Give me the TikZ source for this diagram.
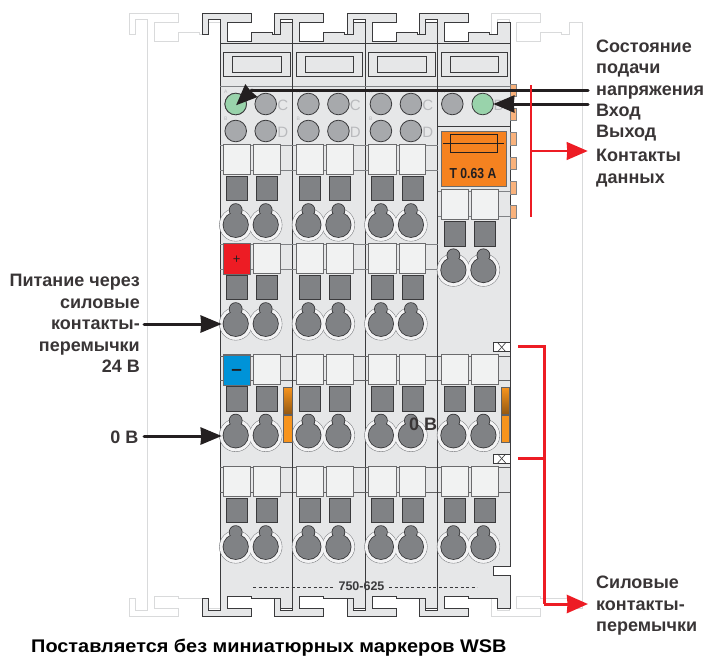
\documentclass[tikz,border=0pt]{standalone}
\usepackage{graphicx}
\usepackage{fontspec}
\setmainfont{Liberation Sans}
\usetikzlibrary{arrows.meta}
\definecolor{wgBody}{HTML}{E6E7E8}
\definecolor{wgKey}{HTML}{F1F2F2}
\definecolor{wgLine}{HTML}{3A3A3C}
\definecolor{wgDark}{HTML}{808285}
\definecolor{wgLed}{HTML}{A7A9AC}
\definecolor{wgGreen}{HTML}{99D3AB}
\definecolor{wgGhost}{HTML}{D9DADB}
\definecolor{wgOrange}{HTML}{F58220}
\definecolor{wgTab}{HTML}{F9B27C}
\definecolor{wgJump}{HTML}{F7941D}
\definecolor{wgRed}{HTML}{ED1C24}
\definecolor{wgBlue}{HTML}{0093D8}
\definecolor{wgText}{HTML}{231F20}
\newcommand{\ModuleOutline}{(0,19) -- (-12,19) -- (-12,34) -- (-18,34) -- (-18,13) -- (31,13) -- (31,22) -- (7,22) -- (7,41) -- (31,41) -- (31,32) -- (52,32) -- (52,34) -- (60,34) -- (60,22.5) -- (72.6,22.5) -- (72.6,608) -- (60,608) -- (60,598.5) -- (31,598.5) -- (31,596) -- (7,596) -- (7,608) -- (31,608) -- (31,616.7) -- (-18,616.7) -- (-18,598.5) -- (-12,598.5) -- (-12,610.7) -- (0,610.7) -- cycle}
\tikzset{
  label/.style={font=\fontsize{18}{21.5}\selectfont\bfseries, text=wgText!90, inner sep=0pt, align=left, anchor=north west},
  labelr/.style={label, align=right, anchor=north east},
  modbody/.style={draw=wgLine, fill=wgBody, line width=1pt},
  ghost/.style={draw=wgGhost, line width=1pt},
  keybox/.style={draw=wgLine!75, fill=wgKey, line width=0.7pt},
  slot/.style={draw=wgLine, fill=wgDark, line width=0.7pt},
  led/.style={draw=wgLine, fill=wgLed, line width=0.8pt},
  tabbox/.style={draw=wgDark, fill=wgTab, line width=0.7pt},
  jump/.style={draw=wgLine!80, line width=0.6pt},
  markbox/.style={draw=wgLine, line width=0.7pt},
  blackarrow/.style={draw=wgText, line width=3pt, line cap=round, -{Stealth[length=21pt,width=17pt,inset=0.5pt]}},
  redarrow/.style={draw=wgRed, line width=3pt, -{Stealth[length=21pt,width=18pt,inset=0.5pt]}},
  redline/.style={draw=wgRed, line width=3pt},
  letter/.style={text=wgLed!80, font=\fontsize{15}{15}\selectfont, inner sep=0pt},
  tiny/.style={text=wgLed!80, font=\fontsize{5}{5}\selectfont, inner sep=0pt},
  pics/terminal/.style={code={
    % keys, slots and clamps of one terminal row
    \draw[keybox] (3.5,0) rectangle (30.7,30);
    \draw[keybox] (33.7,0) rectangle (60.3,30);
    \draw[slot] (6.3,32) rectangle (27.7,56.4);
    \draw[slot] (36.7,32) rectangle (57.7,56.4);
    \foreach \cx in {15.7,45.7} {
      \draw[draw=wgDark, line width=0.6pt] (\cx,80.5) circle (16.3);
    }
    \foreach \cx in {15.7,45.7} {
      \fill[wgBody!50!white] (\cx,80.5) circle (16);
      \draw[slot, line width=1.1pt] (\cx,80.5) circle (12.5);
      \draw[slot, line width=1.1pt] (\cx,65.8) circle (6.3);
      \fill[wgDark] (\cx,80.5) circle (12.2);
      \fill[wgDark] (\cx,65.8) circle (6);
    }
  }}
}
\begin{document}
\begin{tikzpicture}[x=1pt,y=-1pt]
  \useasboundingbox (0,0) rectangle (708,657);
  % rails of the neighbours
  \foreach \gx in {147.5,509.7} {
    \begin{scope}[xshift=\gx pt]
      \draw[ghost] \ModuleOutline;
    \end{scope}
  }
  % the four modules
  \foreach \mx in {220,292.7,365.2,437.7} {
    \begin{scope}[xshift=\mx pt]
      \draw[modbody] \ModuleOutline;
      \draw[markbox] (0,43.3) -- (72.6,43.3);
      \draw[markbox] (3.3,52.7) rectangle (70,76.7);
      \draw[markbox] (12.3,56.7) rectangle (61,72.3);
      \draw[draw=wgDark, line width=1.5pt] (0,86.5) -- (72.6,86.5);
      \foreach \ty in {354.8,466.3} {
        \draw[draw=wgLine!80, line width=0.7pt] (0,\ty+1.5) -- (72.6,\ty+1.5);
        \draw[draw=wgLine!80, line width=0.7pt] (0,\ty+26) -- (72.6,\ty+26);
        \pic at (0,\ty) {terminal};
      }
      \node[tiny] (small\mx) at (5.7,92) {A};
    \end{scope}
  }
  % terminal rows only on the first three modules
  \foreach \mx in {220,292.7,365.2} {
    \begin{scope}[xshift=\mx pt]
      \foreach \ty in {144.3,243.3} {
        \draw[draw=wgDark, line width=1pt] (0,\ty+1.5) -- (72.6,\ty+1.5);
        \draw[draw=wgDark, line width=1pt] (0,\ty+26.5) -- (72.6,\ty+26.5);
        \pic at (0,\ty) {terminal};
      }
      \foreach \ly in {104,131} {
        \draw[led] (15.7,\ly) circle (10.8);
        \draw[led] (45.7,\ly) circle (10.8);
      }
      \node[tiny] at (5.7,119) {B};
      \node[letter] at (62.7,105.5) {C};
      \node[letter] at (62.7,132.5) {D};
    \end{scope}
  }
  % fuse module
  \begin{scope}[xshift=437.7pt]
    \draw[draw=wgLine, line width=0.7pt] (0,126.7) -- (72.6,126.7);
    \draw[led] (14.6,104) circle (10.8);
    \draw[led, fill=wgGreen] (45,104) circle (10.8);
    \node[letter] at (61,105.5) {B};
    \draw[draw=wgLine!75, fill=wgOrange, line width=0.8pt] (3.3,131.3) rectangle (69,186);
    \draw[draw=wgText, line width=0.8pt] (12.3,134.3) rectangle (60,152.7);
    \draw[draw=wgText, line width=0.8pt] (5.6,143.3) -- (66.6,143.3);
    \node[font=\fontsize{14.5}{14.5}\selectfont\bfseries, text=wgText, inner sep=0pt] (fuse) at (35.3,173.5) {\scalebox{0.84}[1]{T 0.63 A}};
    \draw[draw=wgDark, line width=1pt] (0,191) -- (72.6,191);
    \draw[draw=wgDark, line width=1pt] (0,216) -- (72.6,216);
    \pic at (0,189.5) {terminal};
    % side contacts
    \foreach \ty in {84,108,132.7,157,181.7,205.7} {
      \draw[tabbox] (72.6,\ty) rectangle (79,\ty+12.3);
    }
    % notches
    \fill[white] (56,566) rectangle (73.5,575);
    \draw[draw=wgLine, line width=0.7pt] (73,566) -- (55.3,566) -- (55.3,575) -- (72.6,575);
    \foreach \ty in {342.7,454} {
      \draw[draw=wgLine, fill=white, line width=0.7pt] (55.3,\ty) rectangle (72.6,\ty+9);
      \draw[draw=wgLine, line width=0.6pt] (60,\ty) -- (68,\ty+9);
      \draw[draw=wgLine, line width=0.6pt] (60,\ty+9) -- (68,\ty);
    }
  \end{scope}
  % green lamp of module one
  \draw[led, fill=wgGreen] (235.7,104) circle (10.8);
  % coloured keys
  \draw[draw=wgLine!75, fill=wgRed, line width=0.8pt] (223.7,243.3) rectangle (250.7,274.3);
  \node[font=\fontsize{13}{13}\selectfont, text=wgText, inner sep=0pt] (plus) at (236.7,259.7) {+};
  \draw[draw=wgLine!75, fill=wgBlue, line width=0.8pt] (223.7,355) rectangle (250.7,385.7);
  \node[font=\fontsize{19}{19}\selectfont\bfseries, text=wgText, inner sep=0pt] (minus) at (236.7,372.7) {--};
  % jumper contacts
  \foreach \jx in {283.7,501} {
    \shade[top color=wgJump, bottom color=wgJump!60!black, jump] (\jx,387.3) rectangle (\jx+8.7,414);
    \draw[jump, fill=wgJump] (\jx,415) rectangle (\jx+8.7,442.3);
  }
  % type number
  \draw[draw=wgLine, line width=0.8pt, dashed, dash pattern=on 3pt off 2.5pt] (253,587) -- (334,587);
  \draw[draw=wgLine, line width=0.8pt, dashed, dash pattern=on 3pt off 2.5pt] (389,587) -- (477,587);
  \node[font=\fontsize{12.5}{12.5}\selectfont\bfseries, text=wgLine, inner sep=0pt] (partno) at (361.5,586.5) {750-625};
  % labels
  \node[label] (state) at (596,39.5) {Состояние\\подачи\\напряжения};
  \node[label] (input) at (596,104) {Вход};
  \node[label] (output) at (596,125) {Выход};
  \node[label] (data) at (596,149) {Контакты\\данных};
  \node[label] (power) at (596,576) {Силовые\\контакты-\\перемычки};
  \node[labelr] (feed) at (140,274) {Питание через\\силовые\\контакты-\\перемычки\\24 В};
  \node[labelr] (zero) at (138.5,431) {0 В};
  \node[label] (zerob) at (409,418) {0 В};
  \node[font=\fontsize{18.3}{21.5}\selectfont\bfseries, text=black, inner sep=0pt, anchor=base west] (note) at (31,652.5) {\scalebox{1.087}[1]{Поставляется без миниатюрных маркеров WSB}};
  % connectors
  \coordinate (supplyend) at (588,90);
  \coordinate (supplybend) at (252,90);
  \coordinate (supplytip) at (236,105.3);
  \coordinate (inputend) at (588,104);
  \coordinate (inputtip) at (493.3,104);
  \coordinate (feedend) at (144,324);
  \coordinate (feedtip) at (221.7,324);
  \coordinate (zeroend) at (144,436);
  \coordinate (zerotip) at (221.7,436);
  \draw[draw=wgText, line width=3pt, line cap=round] (supplyend) -- (supplybend);
  \draw[blackarrow] (supplybend) -- (supplytip);
  \draw[blackarrow] (inputend) -- (inputtip);
  \draw[blackarrow] (feedend) -- (feedtip);
  \draw[blackarrow] (zeroend) -- (zerotip);
  \coordinate (datatop) at (531,85);
  \coordinate (databot) at (531,216.7);
  \coordinate (datajoin) at (531,151);
  \coordinate (datatip) at (587.7,151);
  \draw[draw=wgRed, line width=1.5pt] (datatop) -- (databot);
  \draw[draw=wgRed, line width=1.5pt, -{Stealth[length=21pt,width=18pt,inset=0.5pt]}] (datajoin) -- (datatip);
  \coordinate (railtop) at (518.3,346.7);
  \coordinate (railmid) at (518.3,458.3);
  \coordinate (railjoin) at (544,458.3);
  \coordinate (railcorner) at (544,346.7);
  \coordinate (railbot) at (544,604);
  \coordinate (railtip) at (588,604);
  \draw[redline] (railtop) -- (railcorner) -- (railbot);
  \draw[redline] (railmid) -- (railjoin);
  \draw[redarrow] (railbot) -- (railtip);
\end{tikzpicture}
\end{document}
